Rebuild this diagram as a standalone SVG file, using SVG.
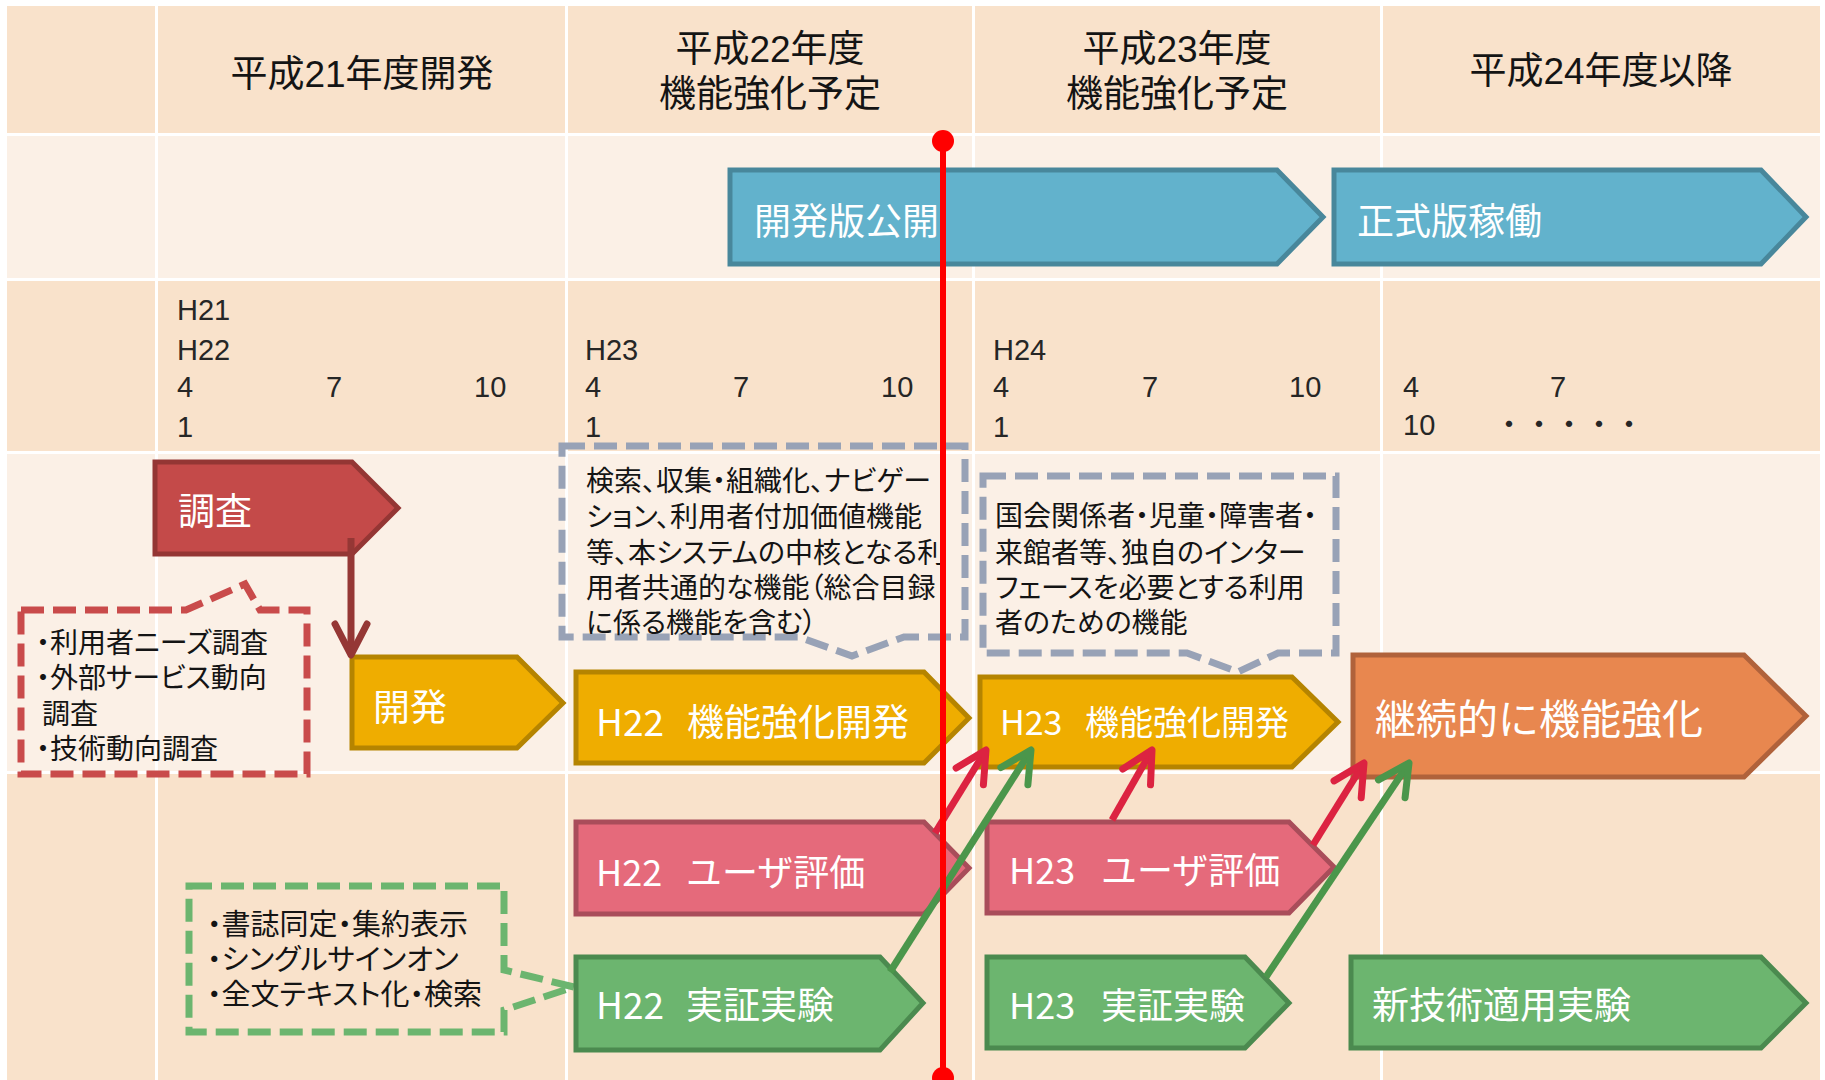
<svg xmlns="http://www.w3.org/2000/svg" width="1825" height="1080" viewBox="0 0 1825 1080">
<style>
text{font-family:"Noto Sans CJK JP","Noto Sans",sans-serif}
.hdr,.tl,.note{font-family:"Liberation Sans","Noto Sans CJK JP",sans-serif}
.hdr{font-size:37px;fill:#141414;text-anchor:middle}
.tl{font-size:29px;fill:#262626}
.lbl{font-size:37px;fill:#ffffff}
.note{font-size:28px;fill:#141414;font-feature-settings:"palt"}
.blue{fill:#62B2CC;stroke:#48879B;stroke-width:5}
.red{fill:#C44A49;stroke:#943634;stroke-width:5}
.yel{fill:#EFAD00;stroke:#B58400;stroke-width:5}
.org{fill:#E8874F;stroke:#B0623B;stroke-width:5}
.pink{fill:#E56A7B;stroke:#A94D5A;stroke-width:5}
.grn{fill:#6CB56F;stroke:#4B8A4F;stroke-width:5}
.dash{fill:none;stroke-width:7;stroke-dasharray:23 9}
.conn{fill:none;stroke-width:7}
</style>
<defs>
<marker id="ah-dr" markerUnits="userSpaceOnUse" markerWidth="40" markerHeight="40" refX="0" refY="0" orient="auto" overflow="visible"><path d="M-31,-16 L0,0 L-31,16" fill="none" stroke="#953735" stroke-width="7" stroke-linecap="round" stroke-linejoin="round"/></marker>
<marker id="ah-r" markerUnits="userSpaceOnUse" markerWidth="40" markerHeight="40" refX="0" refY="0" orient="auto" overflow="visible"><path d="M-31,-16 L0,0 L-31,16" fill="none" stroke="#DC2341" stroke-width="7" stroke-linecap="round" stroke-linejoin="round"/></marker>
<marker id="ah-g" markerUnits="userSpaceOnUse" markerWidth="40" markerHeight="40" refX="0" refY="0" orient="auto" overflow="visible"><path d="M-31,-16 L0,0 L-31,16" fill="none" stroke="#4B964B" stroke-width="7" stroke-linecap="round" stroke-linejoin="round"/></marker>
</defs>
<rect width="1825" height="1080" fill="#ffffff"/>
<g id="table">
<rect x="7" y="6" width="1813" height="127" fill="#F9E2CB"/>
<rect x="7" y="136" width="1813" height="142" fill="#FBF0E6"/>
<rect x="7" y="281" width="1813" height="170" fill="#F9E2CB"/>
<rect x="7" y="454" width="1813" height="317" fill="#FBF0E6"/>
<rect x="7" y="774" width="1813" height="306" fill="#F9E2CB"/>
<g fill="#ffffff">
<rect x="155" y="6" width="3" height="1074"/>
<rect x="565" y="6" width="3" height="1074"/>
<rect x="972" y="6" width="3" height="1074"/>
<rect x="1380" y="6" width="3" height="1074"/>
</g>
</g>
<g id="headers">
<text class="hdr" x="362" y="87">平成21年度開発</text>
<text class="hdr"><tspan x="770" y="62">平成22年度</tspan><tspan x="770" y="107">機能強化予定</tspan></text>
<text class="hdr"><tspan x="1177" y="62">平成23年度</tspan><tspan x="1177" y="107">機能強化予定</tspan></text>
<text class="hdr" x="1601" y="84">平成24年度以降</text>
</g>
<g id="timeline">
<text class="tl"><tspan x="177" y="320">H21</tspan><tspan x="177" y="360">H22</tspan><tspan x="177" y="397">4</tspan><tspan x="326" y="397">7</tspan><tspan x="474" y="397">10</tspan><tspan x="177" y="437">1</tspan></text>
<text class="tl"><tspan x="585" y="360">H23</tspan><tspan x="585" y="397">4</tspan><tspan x="733" y="397">7</tspan><tspan x="881" y="397">10</tspan><tspan x="585" y="437">1</tspan></text>
<text class="tl"><tspan x="993" y="360">H24</tspan><tspan x="993" y="397">4</tspan><tspan x="1142" y="397">7</tspan><tspan x="1289" y="397">10</tspan><tspan x="993" y="437">1</tspan></text>
<text class="tl"><tspan x="1403" y="397">4</tspan><tspan x="1550" y="397">7</tspan><tspan x="1403" y="435">10</tspan><tspan x="1494" y="435" style="font-size:30px">・・・・・</tspan></text>
</g>
<g id="callout-survey">
<path class="dash" stroke="#C94B4B" d="M21 610 H186 L245 584 L260 610 H307 V774 H21 Z"/>
<text class="note"><tspan x="36" y="653">・利用者ニーズ調査</tspan><tspan x="36" y="688">・外部サービス動向</tspan><tspan x="42" y="724">調査</tspan><tspan x="36" y="759">・技術動向調査</tspan></text>
</g>
<g id="callout-h22">
<path class="dash" stroke="#98A2B6" d="M562 446 H965 V637 H904 L852 656 L799 637 H562 Z"/>
<text class="note"><tspan x="586" y="491">検索、収集・組織化、ナビゲー</tspan><tspan x="586" y="527">ション、利用者付加価値機能</tspan><tspan x="586" y="563">等、本システムの中核となる利</tspan><tspan x="586" y="598">用者共通的な機能（総合目録</tspan><tspan x="586" y="633">に係る機能を含む）</tspan></text>
</g>
<g id="callout-h23">
<path class="dash" stroke="#98A2B6" d="M983 476 H1336 V653 H1278 L1238 672 L1187 653 H983 Z"/>
<text class="note"><tspan x="995" y="526">国会関係者・児童・障害者・</tspan><tspan x="995" y="563">来館者等、独自のインター</tspan><tspan x="995" y="598">フェースを必要とする利用</tspan><tspan x="995" y="633">者のための機能</tspan></text>
</g>
<g id="callout-exp">
<path class="dash" stroke="#6CB56F" d="M189 886 H504 V970 L574 987 L504 1010 V1032 H189 Z"/>
<text class="note" style="font-size:29px"><tspan x="207" y="935">・書誌同定・集約表示</tspan><tspan x="207" y="970">・シングルサインオン</tspan><tspan x="207" y="1005">・全文テキスト化・検索</tspan></text>
</g>
<g id="node-dev-release">
<polygon class="blue" points="730,170 1277,170 1323,217 1277,264 730,264"/>
<text class="lbl" x="754" y="235">開発版公開</text>
</g>
<g id="node-official">
<polygon class="blue" points="1334,170 1761,170 1806,217 1761,264 1334,264"/>
<text class="lbl" x="1357" y="235">正式版稼働</text>
</g>
<g id="node-survey">
<polygon class="red" points="155,462 352,462 398,508 352,554 155,554"/>
<text class="lbl" x="178" y="525">調査</text>
</g>
<g id="node-dev">
<polygon class="yel" points="352,657 517,657 563,703 517,748 352,748"/>
<text class="lbl" x="373" y="721">開発</text>
</g>
<g id="node-h22-func">
<polygon class="yel" points="576,672 924,672 969,718 924,763 576,763"/>
<text class="lbl"><tspan x="596" y="736">H22</tspan><tspan x="687" y="736">機能強化開発</tspan></text>
</g>
<g id="node-h23-func">
<polygon class="yel" points="980,677 1292,677 1338,722 1292,767 980,767"/>
<text class="lbl" style="font-size:34px"><tspan x="1000" y="735">H23</tspan><tspan x="1085" y="735">機能強化開発</tspan></text>
</g>
<g id="node-continuous">
<polygon class="org" points="1353,655 1744,655 1806,716 1744,777 1353,777"/>
<text class="lbl" x="1375" y="734" style="font-size:41px">継続的に機能強化</text>
</g>
<g id="node-h22-user">
<polygon class="pink" points="576,822 924,822 969,868 924,914 576,914"/>
<text class="lbl" style="font-size:36px"><tspan x="596" y="886">H22</tspan><tspan x="686" y="886">ユーザ評価</tspan></text>
</g>
<g id="node-h23-user">
<polygon class="pink" points="987,822 1289,822 1334,867 1289,913 987,913"/>
<text class="lbl" style="font-size:36px"><tspan x="1009" y="884">H23</tspan><tspan x="1101" y="884">ユーザ評価</tspan></text>
</g>
<g id="node-h22-exp">
<polygon class="grn" points="576,957 880,957 923,1003 880,1050 576,1050"/>
<text class="lbl"><tspan x="596" y="1019">H22</tspan><tspan x="686" y="1019">実証実験</tspan></text>
</g>
<g id="node-h23-exp">
<polygon class="grn" points="987,957 1245,957 1289,1003 1245,1048 987,1048"/>
<text class="lbl" style="font-size:36px"><tspan x="1009" y="1019">H23</tspan><tspan x="1101" y="1019">実証実験</tspan></text>
</g>
<g id="node-newtech">
<polygon class="grn" points="1351,957 1761,957 1806,1003 1761,1048 1351,1048"/>
<text class="lbl" x="1372" y="1019">新技術適用実験</text>
</g>
<g id="connectors">
<path class="conn" stroke="#953735" d="M351 538 V655" marker-end="url(#ah-dr)"/>
<path class="conn" stroke="#DC2341" d="M935 833 L986 750" marker-end="url(#ah-r)"/>
<path class="conn" stroke="#4B964B" d="M890 972 L1031 750" marker-end="url(#ah-g)"/>
<path class="conn" stroke="#DC2341" d="M1112 820 L1152 750" marker-end="url(#ah-r)"/>
<path class="conn" stroke="#DC2341" d="M1313 845 L1364 763" marker-end="url(#ah-r)"/>
<path class="conn" stroke="#4B964B" d="M1266 977 L1409 763" marker-end="url(#ah-g)"/>
</g>
<g id="today-line">
<line x1="943" y1="141" x2="943" y2="1078" stroke="#FF0000" stroke-width="6"/>
<circle cx="943" cy="141" r="11" fill="#FF0000"/>
<circle cx="943" cy="1078" r="11" fill="#FF0000"/>
</g>
</svg>
